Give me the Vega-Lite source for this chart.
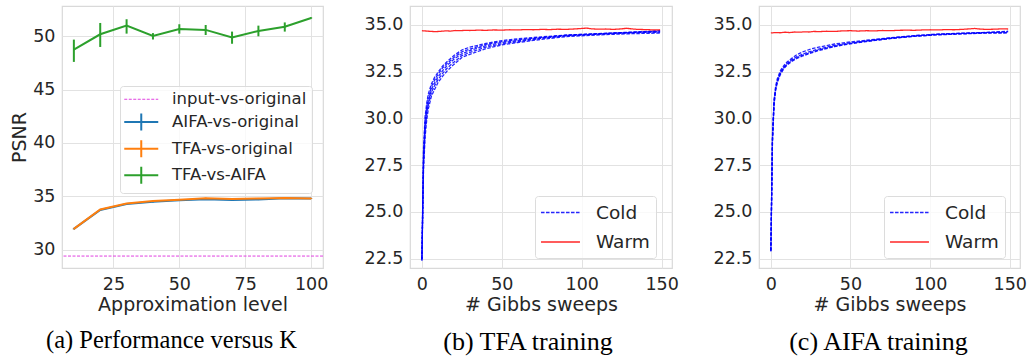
{
 "$schema": "https://vega.github.io/schema/vega-lite/v6.json",
 "padding": {"left": 10, "top": 5, "right": 0, "bottom": 0},
 "autosize": {"type": "pad"},
 "bounds": "flush",
 "spacing": 87,
 "background": "white",
 "config": {
  "view": {"stroke": "#d9d9d9", "strokeWidth": 1.2},
  "font": "DejaVu Sans",
  "axis": {"domain": false, "ticks": false, "grid": true, "gridColor": "#e2e2e2", "gridWidth": 1, "labelFont": "DejaVu Sans", "labelFontSize": 17.5, "labelColor": "#262626", "labelPadding": 7, "titleFont": "DejaVu Sans", "titleFontSize": 19, "titleFontWeight": "normal", "titleColor": "#262626", "titlePadding": 3},
  "legend": {"labelFont": "DejaVu Sans", "labelColor": "#262626", "fillColor": "rgba(255,255,255,0.8)", "strokeColor": "#dcdcdc", "cornerRadius": 3},
  "title": {"font": "Liberation Serif", "fontSize": 26, "fontWeight": "normal", "color": "#000000", "orient": "bottom", "anchor": "middle", "frame": "group", "offset": 14}
 },
 "datasets": {
  "perf": [
   {"s": "input-vs-original", "k": null, "y": 29.4, "lo": null, "hi": null},
   {"s": "AIFA-vs-original", "k": 10, "y": 31.95, "lo": 31.9, "hi": 32.0},
   {"s": "AIFA-vs-original", "k": 20, "y": 33.72, "lo": 33.67, "hi": 33.77},
   {"s": "AIFA-vs-original", "k": 30, "y": 34.28, "lo": 34.23, "hi": 34.33},
   {"s": "AIFA-vs-original", "k": 40, "y": 34.48, "lo": 34.43, "hi": 34.53},
   {"s": "AIFA-vs-original", "k": 50, "y": 34.62, "lo": 34.57, "hi": 34.67},
   {"s": "AIFA-vs-original", "k": 60, "y": 34.72, "lo": 34.67, "hi": 34.77},
   {"s": "AIFA-vs-original", "k": 70, "y": 34.66, "lo": 34.61, "hi": 34.71},
   {"s": "AIFA-vs-original", "k": 80, "y": 34.7, "lo": 34.65, "hi": 34.75},
   {"s": "AIFA-vs-original", "k": 90, "y": 34.82, "lo": 34.77, "hi": 34.87},
   {"s": "AIFA-vs-original", "k": 100, "y": 34.8, "lo": 34.75, "hi": 34.85},
   {"s": "TFA-vs-original", "k": 10, "y": 31.95, "lo": 31.9, "hi": 32.0},
   {"s": "TFA-vs-original", "k": 20, "y": 33.76, "lo": 33.71, "hi": 33.81},
   {"s": "TFA-vs-original", "k": 30, "y": 34.32, "lo": 34.27, "hi": 34.37},
   {"s": "TFA-vs-original", "k": 40, "y": 34.55, "lo": 34.5, "hi": 34.6},
   {"s": "TFA-vs-original", "k": 50, "y": 34.68, "lo": 34.63, "hi": 34.73},
   {"s": "TFA-vs-original", "k": 60, "y": 34.82, "lo": 34.77, "hi": 34.87},
   {"s": "TFA-vs-original", "k": 70, "y": 34.74, "lo": 34.69, "hi": 34.79},
   {"s": "TFA-vs-original", "k": 80, "y": 34.8, "lo": 34.75, "hi": 34.85},
   {"s": "TFA-vs-original", "k": 90, "y": 34.84, "lo": 34.79, "hi": 34.89},
   {"s": "TFA-vs-original", "k": 100, "y": 34.8, "lo": 34.75, "hi": 34.85},
   {"s": "TFA-vs-AIFA", "k": 10, "y": 48.75, "lo": 47.6, "hi": 49.69},
   {"s": "TFA-vs-AIFA", "k": 20, "y": 50.19, "lo": 49.0, "hi": 51.25},
   {"s": "TFA-vs-AIFA", "k": 30, "y": 51.0, "lo": 50.25, "hi": 51.6},
   {"s": "TFA-vs-AIFA", "k": 40, "y": 50.03, "lo": 49.7, "hi": 50.3},
   {"s": "TFA-vs-AIFA", "k": 50, "y": 50.69, "lo": 50.25, "hi": 51.13},
   {"s": "TFA-vs-AIFA", "k": 60, "y": 50.6, "lo": 50.12, "hi": 51.06},
   {"s": "TFA-vs-AIFA", "k": 70, "y": 49.88, "lo": 49.3, "hi": 50.44},
   {"s": "TFA-vs-AIFA", "k": 80, "y": 50.5, "lo": 50.0, "hi": 51.0},
   {"s": "TFA-vs-AIFA", "k": 90, "y": 50.9, "lo": 50.44, "hi": 51.3},
   {"s": "TFA-vs-AIFA", "k": 100, "y": 51.72, "lo": 51.65, "hi": 51.79}
  ],
  "tfa": [
   {"k":"Cold","r":"A","x":0,"y":22.5},{"k":"Cold","r":"A","x":1,"y":28.4},{"k":"Cold","r":"A","x":2,"y":30.1},{"k":"Cold","r":"A","x":3,"y":30.8},{"k":"Cold","r":"A","x":4,"y":31.3},{"k":"Cold","r":"A","x":6,"y":31.85},{"k":"Cold","r":"A","x":8,"y":32.2},{"k":"Cold","r":"A","x":10,"y":32.45},{"k":"Cold","r":"A","x":13,"y":32.8},{"k":"Cold","r":"A","x":16,"y":33.05},{"k":"Cold","r":"A","x":20,"y":33.35},{"k":"Cold","r":"A","x":25,"y":33.65},{"k":"Cold","r":"A","x":30,"y":33.8},{"k":"Cold","r":"A","x":40,"y":34.0},{"k":"Cold","r":"A","x":50,"y":34.15},{"k":"Cold","r":"A","x":60,"y":34.25},{"k":"Cold","r":"A","x":75,"y":34.35},{"k":"Cold","r":"A","x":90,"y":34.45},{"k":"Cold","r":"A","x":105,"y":34.5},{"k":"Cold","r":"A","x":120,"y":34.55},{"k":"Cold","r":"A","x":135,"y":34.6},{"k":"Cold","r":"A","x":149,"y":34.62},
   {"k":"Cold","r":"B","x":0,"y":22.4},{"k":"Cold","r":"B","x":1,"y":28.1},{"k":"Cold","r":"B","x":2,"y":29.9},{"k":"Cold","r":"B","x":3,"y":30.6},{"k":"Cold","r":"B","x":4,"y":31.1},{"k":"Cold","r":"B","x":6,"y":31.7},{"k":"Cold","r":"B","x":8,"y":32.05},{"k":"Cold","r":"B","x":10,"y":32.35},{"k":"Cold","r":"B","x":13,"y":32.7},{"k":"Cold","r":"B","x":16,"y":32.95},{"k":"Cold","r":"B","x":20,"y":33.25},{"k":"Cold","r":"B","x":25,"y":33.55},{"k":"Cold","r":"B","x":30,"y":33.7},{"k":"Cold","r":"B","x":40,"y":33.95},{"k":"Cold","r":"B","x":50,"y":34.1},{"k":"Cold","r":"B","x":60,"y":34.2},{"k":"Cold","r":"B","x":75,"y":34.32},{"k":"Cold","r":"B","x":90,"y":34.43},{"k":"Cold","r":"B","x":105,"y":34.5},{"k":"Cold","r":"B","x":120,"y":34.56},{"k":"Cold","r":"B","x":135,"y":34.62},{"k":"Cold","r":"B","x":149,"y":34.66},
   {"k":"Cold","r":"C","x":0,"y":22.5},{"k":"Cold","r":"C","x":1,"y":27.8},{"k":"Cold","r":"C","x":2,"y":29.6},{"k":"Cold","r":"C","x":3,"y":30.4},{"k":"Cold","r":"C","x":4,"y":30.9},{"k":"Cold","r":"C","x":6,"y":31.55},{"k":"Cold","r":"C","x":8,"y":31.9},{"k":"Cold","r":"C","x":10,"y":32.2},{"k":"Cold","r":"C","x":13,"y":32.55},{"k":"Cold","r":"C","x":16,"y":32.85},{"k":"Cold","r":"C","x":20,"y":33.15},{"k":"Cold","r":"C","x":25,"y":33.45},{"k":"Cold","r":"C","x":30,"y":33.62},{"k":"Cold","r":"C","x":40,"y":33.88},{"k":"Cold","r":"C","x":50,"y":34.05},{"k":"Cold","r":"C","x":60,"y":34.15},{"k":"Cold","r":"C","x":75,"y":34.3},{"k":"Cold","r":"C","x":90,"y":34.42},{"k":"Cold","r":"C","x":105,"y":34.48},{"k":"Cold","r":"C","x":120,"y":34.55},{"k":"Cold","r":"C","x":135,"y":34.6},{"k":"Cold","r":"C","x":149,"y":34.68},
   {"k":"Cold","r":"D","x":0,"y":22.4},{"k":"Cold","r":"D","x":1,"y":27.5},{"k":"Cold","r":"D","x":2,"y":29.3},{"k":"Cold","r":"D","x":3,"y":30.2},{"k":"Cold","r":"D","x":4,"y":30.7},{"k":"Cold","r":"D","x":6,"y":31.4},{"k":"Cold","r":"D","x":8,"y":31.75},{"k":"Cold","r":"D","x":10,"y":32.05},{"k":"Cold","r":"D","x":13,"y":32.4},{"k":"Cold","r":"D","x":16,"y":32.7},{"k":"Cold","r":"D","x":20,"y":33.0},{"k":"Cold","r":"D","x":25,"y":33.35},{"k":"Cold","r":"D","x":30,"y":33.52},{"k":"Cold","r":"D","x":40,"y":33.8},{"k":"Cold","r":"D","x":50,"y":33.98},{"k":"Cold","r":"D","x":60,"y":34.1},{"k":"Cold","r":"D","x":75,"y":34.27},{"k":"Cold","r":"D","x":90,"y":34.4},{"k":"Cold","r":"D","x":105,"y":34.47},{"k":"Cold","r":"D","x":120,"y":34.53},{"k":"Cold","r":"D","x":135,"y":34.58},{"k":"Cold","r":"D","x":149,"y":34.6},
   {"k":"Cold","r":"E","x":0,"y":22.5},{"k":"Cold","r":"E","x":1,"y":27.2},{"k":"Cold","r":"E","x":2,"y":29.0},{"k":"Cold","r":"E","x":3,"y":29.9},{"k":"Cold","r":"E","x":4,"y":30.5},{"k":"Cold","r":"E","x":6,"y":31.2},{"k":"Cold","r":"E","x":8,"y":31.55},{"k":"Cold","r":"E","x":10,"y":31.9},{"k":"Cold","r":"E","x":13,"y":32.25},{"k":"Cold","r":"E","x":16,"y":32.55},{"k":"Cold","r":"E","x":20,"y":32.88},{"k":"Cold","r":"E","x":25,"y":33.25},{"k":"Cold","r":"E","x":30,"y":33.42},{"k":"Cold","r":"E","x":40,"y":33.72},{"k":"Cold","r":"E","x":50,"y":33.92},{"k":"Cold","r":"E","x":60,"y":34.05},{"k":"Cold","r":"E","x":75,"y":34.22},{"k":"Cold","r":"E","x":90,"y":34.36},{"k":"Cold","r":"E","x":105,"y":34.43},{"k":"Cold","r":"E","x":120,"y":34.49},{"k":"Cold","r":"E","x":135,"y":34.53},{"k":"Cold","r":"E","x":149,"y":34.55},
   {"k":"Warm","r":"W","x":0,"y":34.68},{"k":"Warm","r":"W","x":3,"y":34.66},{"k":"Warm","r":"W","x":6,"y":34.64},{"k":"Warm","r":"W","x":9,"y":34.63},{"k":"Warm","r":"W","x":12,"y":34.65},{"k":"Warm","r":"W","x":15,"y":34.67},{"k":"Warm","r":"W","x":18,"y":34.66},{"k":"Warm","r":"W","x":21,"y":34.69},{"k":"Warm","r":"W","x":24,"y":34.68},{"k":"Warm","r":"W","x":27,"y":34.7},{"k":"Warm","r":"W","x":30,"y":34.69},{"k":"Warm","r":"W","x":35,"y":34.71},{"k":"Warm","r":"W","x":40,"y":34.7},{"k":"Warm","r":"W","x":45,"y":34.72},{"k":"Warm","r":"W","x":50,"y":34.71},{"k":"Warm","r":"W","x":55,"y":34.73},{"k":"Warm","r":"W","x":60,"y":34.72},{"k":"Warm","r":"W","x":65,"y":34.74},{"k":"Warm","r":"W","x":70,"y":34.73},{"k":"Warm","r":"W","x":75,"y":34.75},{"k":"Warm","r":"W","x":80,"y":34.74},{"k":"Warm","r":"W","x":85,"y":34.76},{"k":"Warm","r":"W","x":90,"y":34.75},{"k":"Warm","r":"W","x":95,"y":34.77},{"k":"Warm","r":"W","x":100,"y":34.8},{"k":"Warm","r":"W","x":103,"y":34.82},{"k":"Warm","r":"W","x":106,"y":34.78},{"k":"Warm","r":"W","x":110,"y":34.76},{"k":"Warm","r":"W","x":115,"y":34.77},{"k":"Warm","r":"W","x":120,"y":34.75},{"k":"Warm","r":"W","x":125,"y":34.78},{"k":"Warm","r":"W","x":128,"y":34.81},{"k":"Warm","r":"W","x":131,"y":34.78},{"k":"Warm","r":"W","x":135,"y":34.75},{"k":"Warm","r":"W","x":140,"y":34.74},{"k":"Warm","r":"W","x":145,"y":34.72},{"k":"Warm","r":"W","x":149,"y":34.73}
  ],
  "aifa": [
   {"k":"Cold","r":"A","x":0,"y":22.95},{"k":"Cold","r":"A","x":1,"y":29.1},{"k":"Cold","r":"A","x":2,"y":31.0},{"k":"Cold","r":"A","x":3,"y":31.7},{"k":"Cold","r":"A","x":4,"y":32.1},{"k":"Cold","r":"A","x":6,"y":32.55},{"k":"Cold","r":"A","x":8,"y":32.8},{"k":"Cold","r":"A","x":10,"y":33.0},{"k":"Cold","r":"A","x":13,"y":33.2},{"k":"Cold","r":"A","x":16,"y":33.38},{"k":"Cold","r":"A","x":20,"y":33.55},{"k":"Cold","r":"A","x":25,"y":33.7},{"k":"Cold","r":"A","x":30,"y":33.8},{"k":"Cold","r":"A","x":40,"y":33.97},{"k":"Cold","r":"A","x":50,"y":34.08},{"k":"Cold","r":"A","x":60,"y":34.17},{"k":"Cold","r":"A","x":75,"y":34.3},{"k":"Cold","r":"A","x":90,"y":34.42},{"k":"Cold","r":"A","x":105,"y":34.5},{"k":"Cold","r":"A","x":120,"y":34.55},{"k":"Cold","r":"A","x":135,"y":34.58},{"k":"Cold","r":"A","x":149,"y":34.62},
   {"k":"Cold","r":"B","x":0,"y":22.9},{"k":"Cold","r":"B","x":1,"y":28.9},{"k":"Cold","r":"B","x":2,"y":30.9},{"k":"Cold","r":"B","x":3,"y":31.6},{"k":"Cold","r":"B","x":4,"y":32.0},{"k":"Cold","r":"B","x":6,"y":32.45},{"k":"Cold","r":"B","x":8,"y":32.72},{"k":"Cold","r":"B","x":10,"y":32.92},{"k":"Cold","r":"B","x":13,"y":33.12},{"k":"Cold","r":"B","x":16,"y":33.28},{"k":"Cold","r":"B","x":20,"y":33.43},{"k":"Cold","r":"B","x":25,"y":33.58},{"k":"Cold","r":"B","x":30,"y":33.7},{"k":"Cold","r":"B","x":40,"y":33.9},{"k":"Cold","r":"B","x":50,"y":34.03},{"k":"Cold","r":"B","x":60,"y":34.14},{"k":"Cold","r":"B","x":75,"y":34.29},{"k":"Cold","r":"B","x":90,"y":34.4},{"k":"Cold","r":"B","x":105,"y":34.49},{"k":"Cold","r":"B","x":120,"y":34.54},{"k":"Cold","r":"B","x":135,"y":34.59},{"k":"Cold","r":"B","x":149,"y":34.65},
   {"k":"Cold","r":"C","x":0,"y":22.95},{"k":"Cold","r":"C","x":1,"y":28.8},{"k":"Cold","r":"C","x":2,"y":30.8},{"k":"Cold","r":"C","x":3,"y":31.55},{"k":"Cold","r":"C","x":4,"y":31.95},{"k":"Cold","r":"C","x":6,"y":32.4},{"k":"Cold","r":"C","x":8,"y":32.68},{"k":"Cold","r":"C","x":10,"y":32.87},{"k":"Cold","r":"C","x":13,"y":33.07},{"k":"Cold","r":"C","x":16,"y":33.22},{"k":"Cold","r":"C","x":20,"y":33.37},{"k":"Cold","r":"C","x":25,"y":33.52},{"k":"Cold","r":"C","x":30,"y":33.65},{"k":"Cold","r":"C","x":40,"y":33.86},{"k":"Cold","r":"C","x":50,"y":34.0},{"k":"Cold","r":"C","x":60,"y":34.12},{"k":"Cold","r":"C","x":75,"y":34.27},{"k":"Cold","r":"C","x":90,"y":34.39},{"k":"Cold","r":"C","x":105,"y":34.47},{"k":"Cold","r":"C","x":120,"y":34.52},{"k":"Cold","r":"C","x":135,"y":34.57},{"k":"Cold","r":"C","x":149,"y":34.58},
   {"k":"Cold","r":"D","x":0,"y":22.9},{"k":"Cold","r":"D","x":1,"y":28.7},{"k":"Cold","r":"D","x":2,"y":30.7},{"k":"Cold","r":"D","x":3,"y":31.5},{"k":"Cold","r":"D","x":4,"y":31.9},{"k":"Cold","r":"D","x":6,"y":32.35},{"k":"Cold","r":"D","x":8,"y":32.63},{"k":"Cold","r":"D","x":10,"y":32.83},{"k":"Cold","r":"D","x":13,"y":33.03},{"k":"Cold","r":"D","x":16,"y":33.18},{"k":"Cold","r":"D","x":20,"y":33.33},{"k":"Cold","r":"D","x":25,"y":33.48},{"k":"Cold","r":"D","x":30,"y":33.62},{"k":"Cold","r":"D","x":40,"y":33.83},{"k":"Cold","r":"D","x":50,"y":33.98},{"k":"Cold","r":"D","x":60,"y":34.1},{"k":"Cold","r":"D","x":75,"y":34.26},{"k":"Cold","r":"D","x":90,"y":34.38},{"k":"Cold","r":"D","x":105,"y":34.46},{"k":"Cold","r":"D","x":120,"y":34.51},{"k":"Cold","r":"D","x":135,"y":34.55},{"k":"Cold","r":"D","x":149,"y":34.56},
   {"k":"Warm","r":"W","x":0,"y":34.56},{"k":"Warm","r":"W","x":3,"y":34.58},{"k":"Warm","r":"W","x":6,"y":34.57},{"k":"Warm","r":"W","x":9,"y":34.6},{"k":"Warm","r":"W","x":12,"y":34.58},{"k":"Warm","r":"W","x":15,"y":34.61},{"k":"Warm","r":"W","x":18,"y":34.6},{"k":"Warm","r":"W","x":21,"y":34.62},{"k":"Warm","r":"W","x":24,"y":34.61},{"k":"Warm","r":"W","x":27,"y":34.64},{"k":"Warm","r":"W","x":30,"y":34.63},{"k":"Warm","r":"W","x":35,"y":34.65},{"k":"Warm","r":"W","x":40,"y":34.64},{"k":"Warm","r":"W","x":45,"y":34.67},{"k":"Warm","r":"W","x":50,"y":34.68},{"k":"Warm","r":"W","x":55,"y":34.66},{"k":"Warm","r":"W","x":60,"y":34.68},{"k":"Warm","r":"W","x":65,"y":34.67},{"k":"Warm","r":"W","x":70,"y":34.69},{"k":"Warm","r":"W","x":75,"y":34.68},{"k":"Warm","r":"W","x":80,"y":34.7},{"k":"Warm","r":"W","x":85,"y":34.71},{"k":"Warm","r":"W","x":90,"y":34.7},{"k":"Warm","r":"W","x":95,"y":34.72},{"k":"Warm","r":"W","x":100,"y":34.73},{"k":"Warm","r":"W","x":105,"y":34.72},{"k":"Warm","r":"W","x":110,"y":34.74},{"k":"Warm","r":"W","x":115,"y":34.73},{"k":"Warm","r":"W","x":120,"y":34.75},{"k":"Warm","r":"W","x":125,"y":34.78},{"k":"Warm","r":"W","x":128,"y":34.8},{"k":"Warm","r":"W","x":131,"y":34.77},{"k":"Warm","r":"W","x":135,"y":34.75},{"k":"Warm","r":"W","x":140,"y":34.76},{"k":"Warm","r":"W","x":145,"y":34.78},{"k":"Warm","r":"W","x":149,"y":34.77}
  ]
 },
 "hconcat": [
  {
   "width": 261, "height": 262,
   "title": {"text": "(a) Performance versus K", "dx": -21, "fontSize": 24.5},
   "data": {"name": "perf"},
   "layer": [
    {
     "transform": [{"filter": "datum.s !== 'input-vs-original'"}],
     "mark": {"type": "rule", "strokeWidth": 2},
     "encoding": {
      "x": {"field": "k", "type": "quantitative", "scale": {"domain": [5.5, 104.5], "nice": false, "zero": false}, "axis": {"title": "Approximation level", "values": [25, 50, 75, 100]}},
      "y": {"field": "lo", "type": "quantitative", "scale": {"domain": [28.28, 52.84], "nice": false, "zero": false}, "axis": {"title": "PSNR", "values": [30, 35, 40, 45, 50]}},
      "y2": {"field": "hi"},
      "color": {"field": "s", "type": "nominal", "scale": {"domain": ["input-vs-original", "AIFA-vs-original", "TFA-vs-original", "TFA-vs-AIFA"], "range": ["#e040e0", "#1f77b4", "#ff7f0e", "#2ca02c"]},
       "legend": {"title": null, "orient": "none", "legendX": 58, "legendY": 80, "symbolSize": 289, "symbolStrokeWidth": 2, "symbolOffset": 8, "symbolType": "M-2,0L2,0M0,-1L0,1", "labelFontSize": 16.5, "labelOffset": 22.5, "rowPadding": 0.7, "padding": 5,
        "encode": {"symbols": {"update": {
         "shape": {"signal": "datum.value === 'input-vs-original' ? 'M-2,0L2,0' : 'M-2,0L2,0M0,-1L0,1'"},
         "strokeDash": {"signal": "datum.value === 'input-vs-original' ? [3,1.5] : [1,0]"},
         "strokeWidth": {"signal": "datum.value === 'input-vs-original' ? 1 : 2"}
        }}}}}
     }
    },
    {
     "transform": [{"filter": "datum.s !== 'input-vs-original'"}],
     "mark": {"type": "line", "strokeWidth": 2},
     "encoding": {
      "x": {"field": "k", "type": "quantitative"},
      "y": {"field": "y", "type": "quantitative"},
      "color": {"field": "s", "type": "nominal"}
     }
    },
    {
     "transform": [{"filter": "datum.s === 'input-vs-original'"}],
     "mark": {"type": "rule", "strokeWidth": 1, "strokeDash": [3, 1.5]},
     "encoding": {
      "y": {"field": "y", "type": "quantitative"},
      "color": {"field": "s", "type": "nominal"}
     }
    }
   ]
  },
  {
   "width": 262, "height": 262,
   "title": {"text": "(b) TFA training", "dx": -13},
   "data": {"name": "tfa"},
   "mark": {"type": "line", "strokeWidth": 1.3, "opacity": 0.85},
   "encoding": {
    "x": {"field": "x", "type": "quantitative", "scale": {"domain": [-7.45, 156.45], "nice": false, "zero": false}, "axis": {"title": "# Gibbs sweeps", "values": [0, 50, 100, 150]}},
    "y": {"field": "y", "type": "quantitative", "scale": {"domain": [22, 36], "nice": false, "zero": false}, "axis": {"title": null, "values": [22.5, 25, 27.5, 30, 32.5, 35], "format": ".1f"}},
    "color": {"field": "k", "type": "nominal", "scale": {"domain": ["Cold", "Warm"], "range": ["#0000ff", "#ff0000"]},
     "legend": {"title": null, "orient": "none", "legendX": 125, "legendY": 190, "symbolType": "M-2.05,0L2.05,0", "symbolSize": 361, "symbolStrokeWidth": 1.5, "symbolOffset": 9, "labelFontSize": 18.5, "labelOffset": 25, "rowPadding": 9.5, "padding": 6}},
    "strokeDash": {"field": "k", "type": "nominal", "scale": {"domain": ["Cold", "Warm"], "range": [[3.5, 1.5], [1, 0]]},
     "legend": {"title": null, "orient": "none", "legendX": 125, "legendY": 190, "symbolType": "M-2.05,0L2.05,0", "symbolSize": 361, "symbolStrokeWidth": 1.5, "symbolOffset": 9, "labelFontSize": 18.5, "labelOffset": 25, "rowPadding": 9.5, "padding": 6}},
    "detail": {"field": "r"}
   }
  },
  {
   "width": 261, "height": 262,
   "title": {"text": "(c) AIFA training", "dx": -11},
   "data": {"name": "aifa"},
   "mark": {"type": "line", "strokeWidth": 1.3, "opacity": 0.85},
   "encoding": {
    "x": {"field": "x", "type": "quantitative", "scale": {"domain": [-7.45, 156.45], "nice": false, "zero": false}, "axis": {"title": "# Gibbs sweeps", "values": [0, 50, 100, 150]}},
    "y": {"field": "y", "type": "quantitative", "scale": {"domain": [22, 36], "nice": false, "zero": false}, "axis": {"title": null, "values": [22.5, 25, 27.5, 30, 32.5, 35], "format": ".1f"}},
    "color": {"field": "k", "type": "nominal", "scale": {"domain": ["Cold", "Warm"], "range": ["#0000ff", "#ff0000"]},
     "legend": {"title": null, "orient": "none", "legendX": 125, "legendY": 190, "symbolType": "M-2.05,0L2.05,0", "symbolSize": 361, "symbolStrokeWidth": 1.5, "symbolOffset": 9, "labelFontSize": 18.5, "labelOffset": 25, "rowPadding": 9.5, "padding": 6}},
    "strokeDash": {"field": "k", "type": "nominal", "scale": {"domain": ["Cold", "Warm"], "range": [[3.5, 1.5], [1, 0]]},
     "legend": {"title": null, "orient": "none", "legendX": 125, "legendY": 190, "symbolType": "M-2.05,0L2.05,0", "symbolSize": 361, "symbolStrokeWidth": 1.5, "symbolOffset": 9, "labelFontSize": 18.5, "labelOffset": 25, "rowPadding": 9.5, "padding": 6}},
    "detail": {"field": "r"}
   }
  }
 ],
 "resolve": {"scale": {"color": "independent", "strokeDash": "independent"}, "legend": {"color": "independent", "strokeDash": "independent"}}
}
